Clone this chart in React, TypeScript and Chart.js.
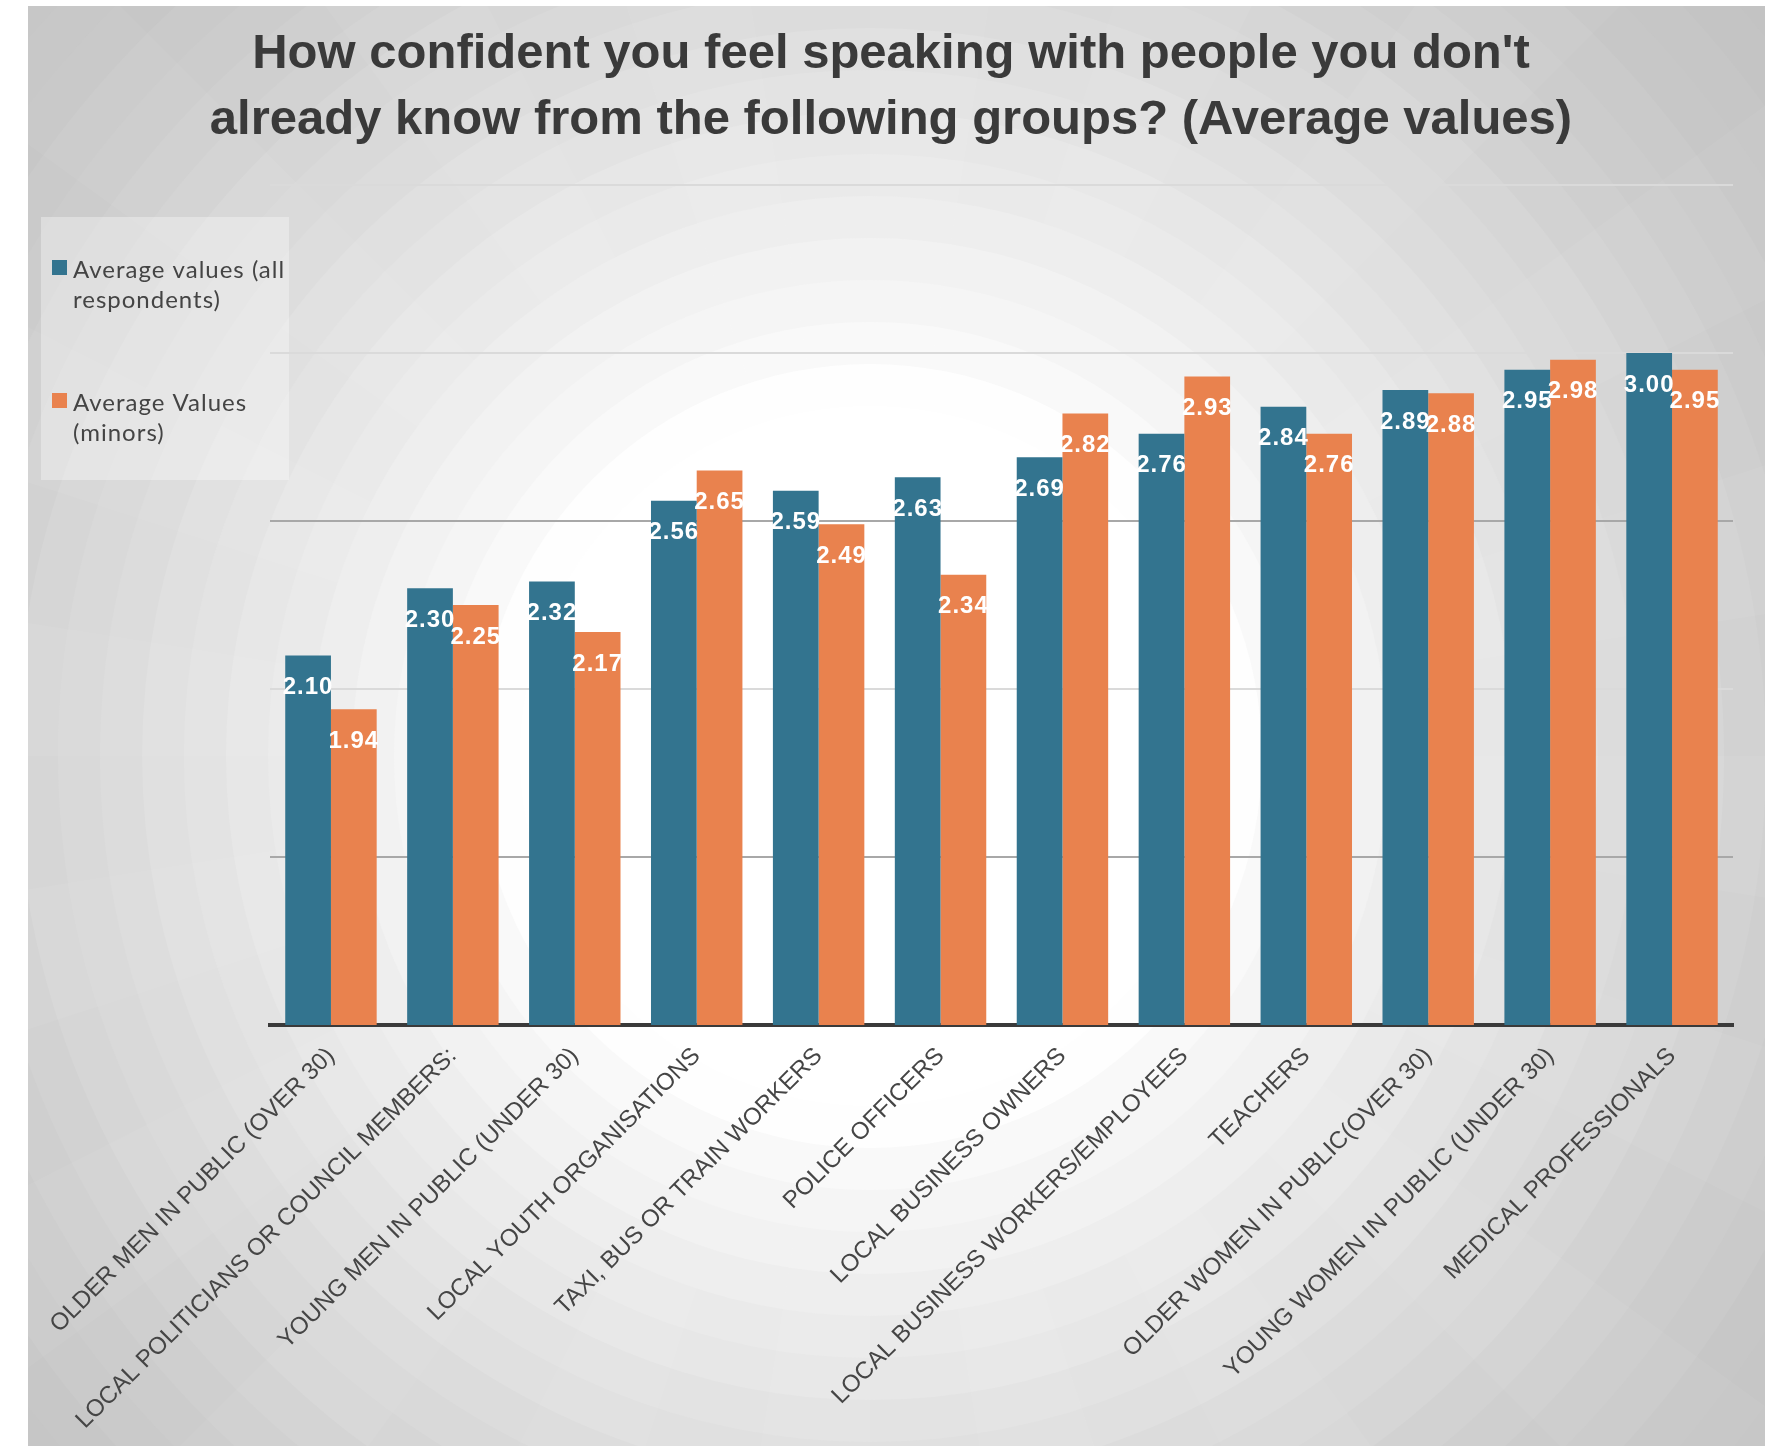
import React, { useEffect, useRef } from "react";
import { Chart, registerables } from "chart.js";

Chart.register(...registerables);

const titleLines = [
  "How confident you feel speaking with people you don't",
  "already know from the following groups? (Average values)",
];

const categories = [
  "OLDER MEN IN PUBLIC (OVER 30)",
  "LOCAL POLITICIANS OR COUNCIL MEMBERS:",
  "YOUNG MEN IN PUBLIC (UNDER 30)",
  "LOCAL YOUTH ORGANISATIONS",
  "TAXI, BUS OR TRAIN WORKERS",
  "POLICE OFFICERS",
  "LOCAL BUSINESS OWNERS",
  "LOCAL BUSINESS WORKERS/EMPLOYEES",
  "TEACHERS",
  "OLDER WOMEN IN PUBLIC(OVER 30)",
  "YOUNG WOMEN IN PUBLIC (UNDER 30)",
  "MEDICAL PROFESSIONALS",
];

const allRespondents = [2.1, 2.3, 2.32, 2.56, 2.59, 2.63, 2.69, 2.76, 2.84, 2.89, 2.95, 3.0];
const minors = [1.94, 2.25, 2.17, 2.65, 2.49, 2.34, 2.82, 2.93, 2.76, 2.88, 2.98, 2.95];

const seriesNames = ["Average values (all respondents)", "Average Values (minors)"];
const legendLines = [
  ["Average values (all", "respondents)"],
  ["Average Values", "(minors)"],
];

const yMin = 1;
const yMax = 3.5;
const yStep = 0.5;
const darkGridValues = [1.5, 2.5];

const BLUE = "#33748f";
const ORANGE = "#e9824e";

const CANVAS_W = 1737;
const CANVAS_H = 1440;

const backgroundPlugin = {
  id: "sunburstBackground",
  beforeDraw(chart: any) {
    const ctx = chart.ctx;
    const w = chart.width;
    const h = chart.height;
    const cx = 842;
    const cy = 750;
    const stops: [number, number][] = [
      [0, 255],
      [380, 255],
      [450, 247],
      [550, 239],
      [650, 230],
      [750, 222],
      [850, 214],
      [950, 206],
      [1050, 200],
      [1150, 196],
      [1400, 192],
    ];
    const shade = (r: number) => {
      for (let i = 1; i < stops.length; i++) {
        if (r <= stops[i][0]) {
          const [r0, c0] = stops[i - 1];
          const [r1, c1] = stops[i];
          return c0 + ((c1 - c0) * (r - r0)) / (r1 - r0);
        }
      }
      return stops[stops.length - 1][1];
    };
    ctx.save();
    ctx.fillStyle = "rgb(192,192,192)";
    ctx.fillRect(0, 0, w, h);
    const step = 42;
    for (let r = 1400; r > 0; r -= step) {
      const c = Math.round(shade(r));
      ctx.fillStyle = `rgb(${c},${c},${c})`;
      ctx.beginPath();
      ctx.arc(cx, cy, r, 0, Math.PI * 2);
      ctx.fill();
    }
    const n = 40;
    ctx.fillStyle = "rgba(255,255,255,0.05)";
    for (let i = 0; i < n; i += 2) {
      const a0 = (i / n) * Math.PI * 2;
      const a1 = ((i + 1) / n) * Math.PI * 2;
      ctx.beginPath();
      ctx.moveTo(cx, cy);
      ctx.arc(cx, cy, 2000, a0, a1);
      ctx.closePath();
      ctx.fill();
    }
    ctx.restore();

    // title
    ctx.save();
    ctx.font = "bold 49px 'Liberation Sans', Arial, sans-serif";
    ctx.fillStyle = "#3a3a3a";
    ctx.textAlign = "center";
    ctx.textBaseline = "alphabetic";
    titleLines.forEach((ln, i) => {
      ctx.fillText(ln, 863, 62 + i * 66);
    });
    ctx.restore();

    // legend box + entries
    ctx.save();
    ctx.fillStyle = "rgba(255,255,255,0.34)";
    ctx.fillRect(13, 211, 248, 263);
    const colors = [BLUE, ORANGE];
    const squareY = [254, 387];
    ctx.font = "24px Lato, 'Noto Sans', sans-serif";
    try {
      (ctx as any).letterSpacing = "1px";
    } catch (e) {}
    ctx.textBaseline = "alphabetic";
    ctx.textAlign = "left";
    legendLines.forEach((lines, i) => {
      ctx.fillStyle = colors[i];
      ctx.fillRect(24, squareY[i], 15, 15);
      ctx.fillStyle = "#444444";
      lines.forEach((ln, j) => {
        ctx.fillText(ln, 45, squareY[i] + 18 + j * 30);
      });
    });
    ctx.restore();
  },
};

const valueLabelPlugin = {
  id: "valueLabels",
  afterDatasetsDraw(chart: any) {
    const ctx = chart.ctx;
    ctx.save();
    ctx.font = "bold 24px 'Liberation Sans', Arial, sans-serif";
    ctx.fillStyle = "#ffffff";
    ctx.textAlign = "center";
    ctx.textBaseline = "middle";
    try {
      (ctx as any).letterSpacing = "1px";
    } catch (e) {}
    chart.data.datasets.forEach((ds: any, di: number) => {
      const meta = chart.getDatasetMeta(di);
      meta.data.forEach((el: any, idx: number) => {
        const v = ds.data[idx];
        ctx.fillText(Number(v).toFixed(2), el.x, el.y + 32);
      });
    });
    ctx.restore();
  },
};

export default function App() {
  const canvasRef = useRef<HTMLCanvasElement | null>(null);

  useEffect(() => {
    const canvas = canvasRef.current;
    if (!canvas) return;
    const chart = new Chart(canvas, {
      type: "bar",
      data: {
        labels: categories,
        datasets: [
          {
            label: seriesNames[0],
            data: allRespondents,
            backgroundColor: BLUE,
            borderWidth: 0,
            categoryPercentage: 0.75,
            barPercentage: 1.0,
          },
          {
            label: seriesNames[1],
            data: minors,
            backgroundColor: ORANGE,
            borderWidth: 0,
            categoryPercentage: 0.75,
            barPercentage: 1.0,
          },
        ],
      },
      options: {
        responsive: false,
        animation: false,
        devicePixelRatio: 1,
        layout: { padding: { left: 242, right: 32, top: 179, bottom: 0 } },
        plugins: {
          legend: { display: false },
          tooltip: { enabled: false },
          title: { display: false },
        },
        scales: {
          x: {
            grid: { display: false },
            border: { display: true, color: "#3a3a3a", width: 4 },
            ticks: {
              color: "#454545",
              font: { family: "'Liberation Sans', Arial, sans-serif", size: 24 },
              minRotation: 45,
              maxRotation: 45,
              autoSkip: false,
              padding: 9,
            },
            afterFit: (scale: any) => {
              scale.height = 421;
              scale.paddingLeft = 0;
              scale.paddingRight = 0;
            },
          },
          y: {
            min: yMin,
            max: yMax,
            ticks: { display: false, stepSize: yStep },
            border: { display: false },
            grid: {
              drawTicks: false,
              lineWidth: 2,
              color: (c: any) => {
                const v = c.tick ? c.tick.value : 0;
                if (v === yMin) return "rgba(0,0,0,0)";
                return darkGridValues.includes(v) ? "#a8a8a8" : "#dadada";
              },
            },
            afterFit: (scale: any) => {
              scale.width = 0;
            },
          },
        },
      },
      plugins: [backgroundPlugin, valueLabelPlugin],
    });
    return () => chart.destroy();
  }, []);

  return (
    <div style={{ position: "absolute", left: 28, top: 6, width: CANVAS_W, height: CANVAS_H }}>
      <canvas ref={canvasRef} width={CANVAS_W} height={CANVAS_H} style={{ display: "block" }} />
    </div>
  );
}
